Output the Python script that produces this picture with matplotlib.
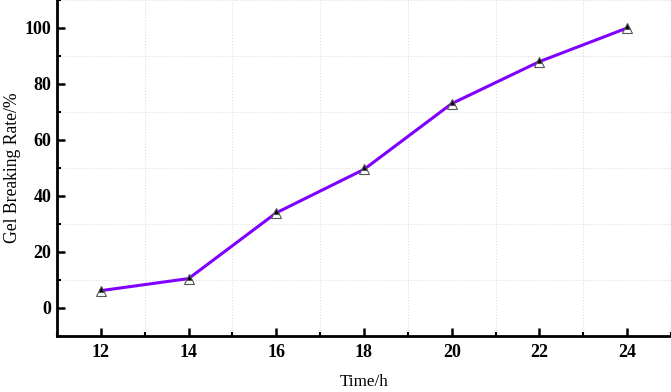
import matplotlib
matplotlib.use("Agg")
import matplotlib.pyplot as plt
from matplotlib.ticker import MultipleLocator

time_h = [12, 14, 16, 18, 20, 22, 24]
rate = [6.2, 10.5, 34, 49.5, 73, 88, 100]

plt.rcParams['font.family'] = ['Liberation Serif', 'DejaVu Serif']

fig = plt.figure(figsize=(6.71, 3.92), dpi=100)
ax = fig.add_axes([57/671, 56/392, 1 - 57/671, 336/392])

ax.plot(time_h, rate, color='#8000ff', lw=2.2, marker='^', ms=7.5,
        fillstyle='top', markerfacecolor='black', markerfacecoloralt='white',
        markeredgecolor='#555555', markeredgewidth=0.8, zorder=3)

ax.set_xlim(11, 25)
ax.set_ylim(-10, 110)
ax.xaxis.set_major_locator(MultipleLocator(2))
ax.xaxis.set_minor_locator(MultipleLocator(1))
ax.yaxis.set_minor_locator(MultipleLocator(10))
ax.set_yticks([0, 20, 40, 60, 80, 100])

ax.grid(True, which='minor', color='#dddddd', ls=':', lw=0.8)
ax.set_axisbelow(True)

for s in ['top', 'right']:
    ax.spines[s].set_visible(False)
for s in ['left', 'bottom']:
    ax.spines[s].set_linewidth(2)

ax.tick_params(which='major', direction='in', length=6, width=1.8, labelsize=13)
ax.tick_params(axis='x', which='major', pad=6)
ax.tick_params(axis='y', which='major', pad=4)
ax.tick_params(which='minor', direction='in', length=3, width=1.5)
for lab in ax.get_xticklabels() + ax.get_yticklabels():
    lab.set_fontweight('bold')

ax.set_xlabel('Time/h', fontsize=12.3)
ax.set_ylabel('Gel Breaking Rate/%', fontsize=12.7)
ax.xaxis.set_label_coords(0.5, -0.137)
ax.yaxis.set_label_coords(-0.073, 0.5)
ax.xaxis.label.set_va('center')
ax.yaxis.label.set_va('center')

fig.savefig('out.png', dpi=100)
